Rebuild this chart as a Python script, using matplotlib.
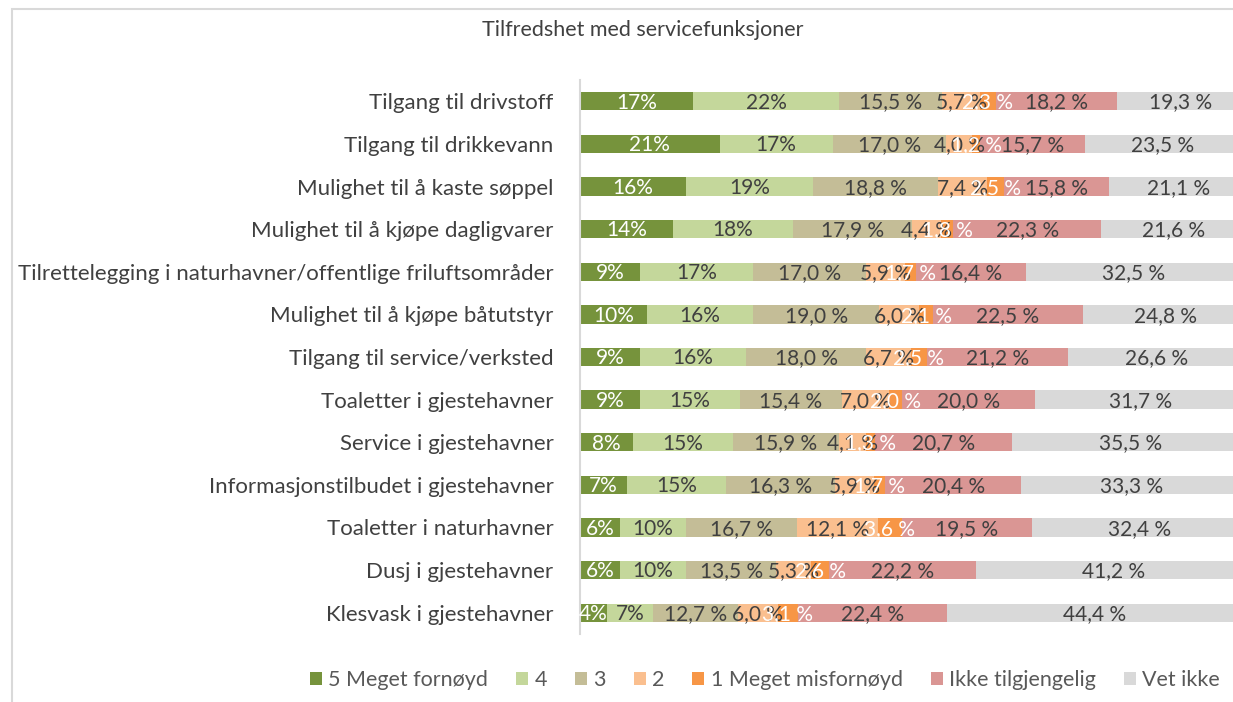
import numpy as np
import matplotlib.pyplot as plt
from matplotlib.patches import Rectangle

plt.rcParams['font.family'] = ['Lato', 'DejaVu Sans']

categories = [
    'Tilgang til drivstoff',
    'Tilgang til drikkevann',
    'Mulighet til å kaste søppel',
    'Mulighet til å kjøpe dagligvarer',
    'Tilrettelegging i naturhavner/offentlige friluftsområder',
    'Mulighet til å kjøpe båtutstyr',
    'Tilgang til service/verksted',
    'Toaletter i gjestehavner',
    'Service i gjestehavner',
    'Informasjonstilbudet i gjestehavner',
    'Toaletter i naturhavner',
    'Dusj i gjestehavner',
    'Klesvask i gjestehavner',
]

s5 = [17, 21, 16, 14, 9, 10, 9, 9, 8, 7, 6, 6, 4]
s4 = [22, 17, 19, 18, 17, 16, 16, 15, 15, 15, 10, 10, 7]
s3 = [15.5, 17.0, 18.8, 17.9, 17.0, 19.0, 18.0, 15.4, 15.9, 16.3, 16.7, 13.5, 12.7]
s2 = [5.7, 4.0, 7.4, 4.4, 5.9, 6.0, 6.7, 7.0, 4.1, 5.9, 12.1, 5.3, 6.0]
s1 = [2.3, 1.2, 2.5, 1.8, 1.7, 2.1, 2.5, 2.0, 1.3, 1.7, 3.6, 2.6, 3.1]
ikke = [18.2, 15.7, 15.8, 22.3, 16.4, 22.5, 21.2, 20.0, 20.7, 20.4, 19.5, 22.2, 22.4]
vet_ikke = [19.3, 23.5, 21.1, 21.6, 32.5, 24.8, 26.6, 31.7, 35.5, 33.3, 32.4, 41.2, 44.4]

series = ['5 Meget fornøyd', '4', '3', '2', '1 Meget misfornøyd', 'Ikke tilgjengelig', 'Vet ikke']
values = [s5, s4, s3, s2, s1, ikke, vet_ikke]
colors = ['#76933C', '#C4D79B', '#C4BD97', '#FABF8F', '#F79646', '#DA9694', '#D9D9D9']
text_colors = ['white', '#404040', '#404040', '#404040', 'white', '#404040', '#404040']
whole_pct = [True, True, False, False, False, False, False]

fig = plt.figure(figsize=(12.33, 7.02), dpi=100)

# chart frame
fig.patches.append(Rectangle((12 / 1233, -0.01), 1.2, 1 - 9 / 702 + 0.01, transform=fig.transFigure,
                             fill=False, edgecolor='#D9D9D9', linewidth=1.5))

# 100 % sits a little past the right edge of the picture
ax = fig.add_axes([580 / 1233, (702 - 634) / 702, 665 / 1233, 554 / 702])
y = np.arange(len(categories))
h = 0.43

left = np.zeros(len(categories))
for name, vals, c, tc, whole in zip(series, values, colors, text_colors, whole_pct):
    vals = np.array(vals, dtype=float)
    ax.barh(y, vals, left=left, height=h, color=c, label=name, zorder=2)
    for yi, l, v in zip(y, left, vals):
        if whole:
            txt = f'{v:.0f}%'
        else:
            txt = f'{v:.1f} %'.replace('.', ',')
        ax.text(l + v / 2, yi + 0.03, txt, ha='center', va='center', color=tc, fontsize=15, zorder=3)
    left += vals

ax.set_xlim(0, 100)
ax.set_ylim(len(categories) - 0.5, -0.5)
ax.set_yticks(y)
ax.set_yticklabels(categories, fontsize=16, color='#404040')
ax.tick_params(axis='y', length=0, pad=19)
ax.set_xticks([])
for s in ['top', 'right', 'bottom']:
    ax.spines[s].set_visible(False)
ax.spines['left'].set_color('#D9D9D9')
ax.spines['left'].set_linewidth(1.5)

fig.text(643 / 1233, 1 - 30 / 702, 'Tilfredshet med servicefunksjoner', ha='center', va='center',
         fontsize=15.5, color='#404040')

handles, labels = ax.get_legend_handles_labels()
fig.legend(handles, labels, loc='center', bbox_to_anchor=(765 / 1233, 1 - 680 / 702), ncol=7,
           frameon=False, fontsize=15.5, handlelength=0.55, handleheight=0.55, handletextpad=0.3,
           columnspacing=1.3, labelcolor='#595959')

fig.savefig('out.png', dpi=100)
